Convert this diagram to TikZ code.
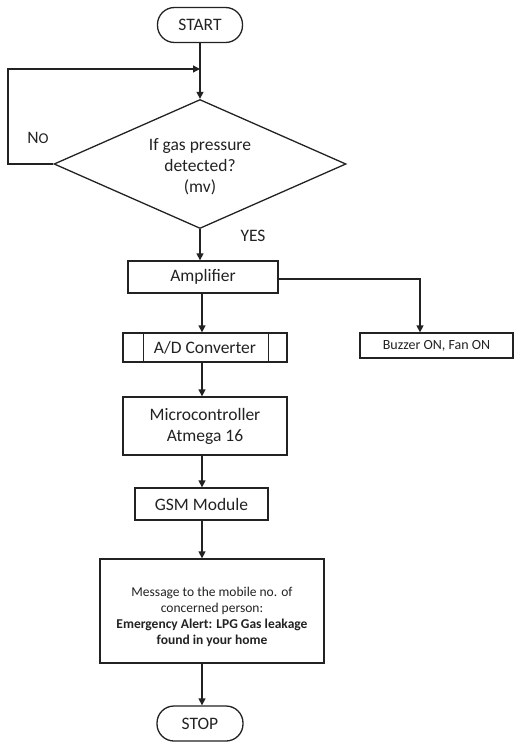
\documentclass[tikz,border=0pt]{standalone}
\usepackage{fontspec}
\setmainfont{Carlito}
\usetikzlibrary{arrows.meta,shapes.geometric}
\definecolor{ink}{HTML}{222222}
\begin{document}
\begin{tikzpicture}[x=1bp,y=-1bp,
  line width=1.3bp, draw=ink, text=ink,
  box/.style={draw, rectangle, inner sep=0pt, font=\fontsize{17.5bp}{21bp}\selectfont, align=center},
  term/.style={box, rounded corners=17bp},
  decis/.style={draw, diamond, inner sep=0pt},
  lbl/.style={font=\fontsize{17.5bp}{21bp}\selectfont, align=center},
  arr/.style={-{Triangle[length=7bp,width=7bp]}}]
\useasboundingbox (0,0) rectangle (524,742);
\coordinate (cx) at (202,0);
\node[term, minimum width=85bp, minimum height=35bp] (start) at (200,25) {START};
\node[decis, minimum width=292bp, minimum height=129bp] (dec) at (200,164) {};
\node[lbl] (dect) at (200,167) {If gas pressure\\detected?\\(mv)};
\coordinate (lp) at (8,69);
\coordinate (jn) at (200,69);
\node[box, minimum width=150bp, minimum height=32bp] (amp) at (203,277) {Amplifier};
\node[box, minimum width=164bp, minimum height=29bp] (ad) at (205,347.5) {A/D Converter};
\draw ([xshift=21bp]ad.north west) -- ([xshift=21bp]ad.south west);
\draw ([xshift=-19bp]ad.north east) -- ([xshift=-19bp]ad.south east);
\node[box, minimum width=164bp, minimum height=58bp] (mc) at (205,426) {Microcontroller\\Atmega 16};
\node[box, minimum width=133bp, minimum height=32bp] (gsm) at (201.5,504) {GSM Module};
\node[box, minimum width=224bp, minimum height=104bp] (msg) at (212,611) {};
\node[lbl, font=\fontsize{13.5bp}{16.2bp}\selectfont] (msgt) at (212,617) {Message to the mobile no. of\\concerned person:\\\textbf{Emergency Alert: LPG Gas leakage}\\\textbf{found in your home}};
\node[term, minimum width=86bp, minimum height=35bp] (stop) at (200,723.5) {STOP};
\node[box, minimum width=153bp, minimum height=25bp, font=\fontsize{14bp}{17bp}\selectfont] (buz) at (436.5,345.5) {Buzzer ON, Fan ON};
\coordinate (bx) at (420,0);
\node[lbl] (no) at (38,138) {N{\fontsize{15bp}{18bp}\selectfont O}};
\node[lbl] (yes) at (253,236) {YES};
% connectors
\draw[arr] (start.south) -- (dec.north);
\draw[arr] (dec.west) -- (dec.west -| lp) -- (lp) -- (jn);
\draw[arr] (dec.south) -- (dec.south |- amp.north);
\draw[arr] (amp.south -| cx) -- (ad.north -| cx);
\draw[arr] (ad.south -| cx) -- (mc.north -| cx);
\draw[arr] (mc.south -| cx) -- (gsm.north -| cx);
\draw[arr] (gsm.south -| cx) -- (msg.north -| cx);
\draw[arr] (msg.south -| cx) -- (stop.north -| cx);
\draw[arr] ([yshift=-2bp]amp.east) -| (buz.north -| bx);
\end{tikzpicture}
\end{document}
